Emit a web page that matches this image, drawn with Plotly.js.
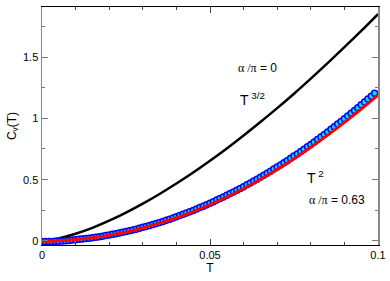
<!DOCTYPE html>
<html><head><meta charset="utf-8">
<script src="https://cdn.plot.ly/plotly-3.0.1.min.js"></script>
<style>body{margin:0}#p{width:390px;height:281px}</style>
</head><body><div id="p"></div>
<script>
// Temperature grid for the curves
var Tcurve = [0,0.005,0.01,0.015,0.02,0.025,0.03,0.035,0.04,0.045,0.05,0.055,0.06,0.065,0.07,0.075,0.08,0.085,0.09,0.095,0.1];
// alpha/pi = 0 curve (black, ~T^{3/2})
var cvAlpha0 = [0,0.021,0.059,0.107,0.165,0.231,0.304,0.383,0.468,0.558,0.654,0.754,0.86,0.970,1.083,1.201,1.324,1.450,1.580,1.713,1.85];
// T^2 fit (red)
var cvFit = [-0.003,0.001,0.011,0.026,0.047,0.073,0.106,0.145,0.189,0.240,0.297,0.359,0.428,0.503,0.584,0.671,0.764,0.863,0.967,1.076,1.19];
// alpha/pi = 0.63 numerical data (blue circles), T = 0 ... 0.099 step 0.001
var Tdata = [0,0.001,0.002,0.003,0.004,0.005,0.006,0.007,0.008,0.009,
0.010,0.011,0.012,0.013,0.014,0.015,0.016,0.017,0.018,0.019,
0.020,0.021,0.022,0.023,0.024,0.025,0.026,0.027,0.028,0.029,
0.030,0.031,0.032,0.033,0.034,0.035,0.036,0.037,0.038,0.039,
0.040,0.041,0.042,0.043,0.044,0.045,0.046,0.047,0.048,0.049,
0.050,0.051,0.052,0.053,0.054,0.055,0.056,0.057,0.058,0.059,
0.060,0.061,0.062,0.063,0.064,0.065,0.066,0.067,0.068,0.069,
0.070,0.071,0.072,0.073,0.074,0.075,0.076,0.077,0.078,0.079,
0.080,0.081,0.082,0.083,0.084,0.085,0.086,0.087,0.088,0.089,
0.090,0.091,0.092,0.093,0.094,0.095,0.096,0.097,0.098,0.099];
var cvData = [
-0.005,-0.005,-0.004,-0.004,-0.003,-0.002,0.000,0.002,0.004,0.007,
0.010,0.013,0.016,0.019,0.023,0.026,0.030,0.034,0.039,0.044,
0.049,0.054,0.059,0.065,0.071,0.077,0.083,0.090,0.096,0.103,
0.111,0.118,0.126,0.134,0.142,0.151,0.159,0.168,0.178,0.187,
0.197,0.207,0.217,0.227,0.238,0.249,0.260,0.272,0.283,0.295,
0.307,0.320,0.333,0.346,0.359,0.372,0.386,0.400,0.414,0.428,
0.443,0.458,0.473,0.488,0.504,0.520,0.536,0.552,0.569,0.586,
0.603,0.620,0.638,0.655,0.674,0.692,0.710,0.729,0.748,0.768,
0.787,0.807,0.827,0.847,0.868,0.889,0.910,0.931,0.953,0.974,
0.996,1.019,1.041,1.064,1.087,1.110,1.134,1.157,1.181,1.205];
</script>
<script>
var traces = [
 {x:Tcurve, y:cvAlpha0, mode:'lines', line:{color:'#000', width:2.5, shape:'spline'}, hoverinfo:'none'},
 {x:Tdata, y:cvData, mode:'markers', marker:{symbol:'circle', size:6, color:'#00e5ff', line:{color:'#0000ff', width:1.5}}, hoverinfo:'none'},
 {x:Tcurve, y:cvFit, mode:'lines', line:{color:'#ff0000', width:3, shape:'spline'}, hoverinfo:'none'}
];
var layout = {
 width:390, height:281, showlegend:false,
 margin:{l:42, r:12, t:7, b:36},
 paper_bgcolor:'#fff', plot_bgcolor:'#fff',
 font:{family:'Liberation Sans, Arial, sans-serif', size:11, color:'#000'},
 xaxis:{range:[0,0.1], tickvals:[0,0.05,0.1], ticktext:['0','0.05','0.1'], ticks:'inside', ticklen:6, tickcolor:'#444',
   showline:true, linecolor:'#000', linewidth:1, mirror:'allticks', showgrid:false, zeroline:false,
   minor:{dtick:0.01, ticks:'inside', ticklen:3, tickcolor:'#444'},
   title:{text:'T', font:{size:12}, standoff:2}},
 yaxis:{range:[-0.033,1.908], tickvals:[0,0.5,1,1.5], ticktext:['0','0.5','1','1.5'], ticks:'inside', ticklen:6, tickcolor:'#777',
   showline:true, linecolor:'#888', linewidth:1.5, mirror:'allticks', showgrid:false, zeroline:false,
   minor:{dtick:0.25, ticks:'inside', ticklen:3, tickcolor:'#777'},
   title:{text:'C<sub>v</sub>(T)', font:{size:12}, standoff:4}},
 annotations:[
  {x:0.064, y:1.41, xref:'x', yref:'y', text:'<span style="font-family:Liberation Serif">α /π</span> = 0', showarrow:false, font:{size:12}},
  {x:0.0625, y:1.16, xref:'x', yref:'y', text:'T<sup> 3/2</sup>', showarrow:false, font:{size:14}},
  {x:0.0815, y:0.52, xref:'x', yref:'y', text:'T<sup> 2</sup>', showarrow:false, font:{size:14}},
  {x:0.0878, y:0.336, xref:'x', yref:'y', text:'<span style="font-family:Liberation Serif">α /π</span> = 0.63', showarrow:false, font:{size:12}}
 ]
};
Plotly.newPlot('p', traces, layout, {staticPlot:true});
</script>
</body></html>
